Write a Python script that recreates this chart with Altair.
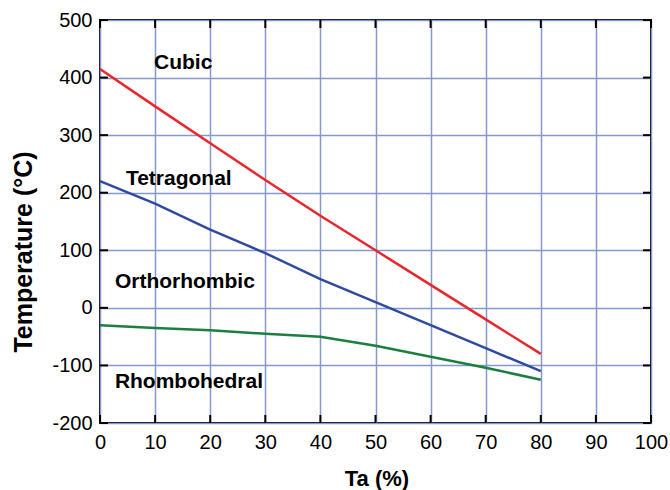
import altair as alt
import pandas as pd

# Data
ta_cubic = [0, 10, 20, 30, 40, 50, 60, 70, 80]
t_cubic = [415, 350, 286, 222, 160, 100, 40, -20, -80]
ta_tet = [0, 10, 20, 30, 40, 50, 60, 70, 80]
t_tet = [220, 181, 136, 95, 50, 10, -30, -70, -110]
ta_rh = [0, 10, 20, 30, 40, 50, 60, 70, 80]
t_rh = [-30, -35, -39, -45, -50, -66, -85, -104, -125]

phase_names = ["Cubic", "Tetragonal", "Orthorhombic", "Rhombohedral"]
phase_x = [9.8, 4.7, 2.7, 2.7]
phase_y = [415, 213, 35, -139]

x_ticks = [0, 10, 20, 30, 40, 50, 60, 70, 80, 90, 100]
y_ticks = [-200, -100, 0, 100, 200, 300, 400, 500]

rows = []
for s, xs, ys in [("Cubic-Tetragonal", ta_cubic, t_cubic),
                  ("Tetragonal-Orthorhombic", ta_tet, t_tet),
                  ("Orthorhombic-Rhombohedral", ta_rh, t_rh)]:
    for a, b in zip(xs, ys):
        rows.append({"series": s, "Ta": a, "T": b})
lines_df = pd.DataFrame(rows)
labels_df = pd.DataFrame({"name": phase_names, "Ta": phase_x, "T": phase_y})
xt_df = pd.DataFrame({"Ta": x_ticks})
yt_df = pd.DataFrame({"T": y_ticks})

W, H = 551, 403
xscale = alt.Scale(domain=[0, 100], nice=False, zero=False)
yscale = alt.Scale(domain=[-200, 500], nice=False, zero=False)
FONT = "Liberation Sans"
GRID = "#8497cf"

x_axis = alt.Axis(values=x_ticks, orient="bottom", ticks=False, domain=False, grid=True,
                  gridColor=GRID, gridWidth=1.5,
                  labelFont=FONT, labelFontSize=20, labelColor="black", labelPadding=9,
                  labelFlush=False, labelExpr="'' + datum.value",
                  title="Ta (%)", titleFont=FONT, titleFontSize=22, titleFontWeight="bold",
                  titleColor="black", titleX=W / 2 + 1, titleY=55, titleBaseline="middle",
                  titleAlign="center")
y_axis = alt.Axis(values=y_ticks, orient="left", ticks=False, domain=False, grid=True,
                  gridColor=GRID, gridWidth=1.5,
                  labelFont=FONT, labelFontSize=20, labelColor="black", labelPadding=8,
                  labelFlush=False, labelExpr="'' + datum.value",
                  title="Temperature (°C)", titleFont=FONT, titleFontSize=25,
                  titleFontWeight="bold", titleColor="black", titleX=-77, titleY=H / 2 + 30,
                  titleAngle=-90, titleBaseline="middle", titleAlign="center")

lines = alt.Chart(lines_df).mark_line(strokeWidth=2.5).encode(
    x=alt.X("Ta:Q", scale=xscale, axis=x_axis),
    y=alt.Y("T:Q", scale=yscale, axis=y_axis),
    color=alt.Color("series:N", legend=None,
                    scale=alt.Scale(domain=["Cubic-Tetragonal", "Tetragonal-Orthorhombic",
                                            "Orthorhombic-Rhombohedral"],
                                    range=["#e8262c", "#2f4b9f", "#1c7f40"])),
    detail="series:N",
)

# Inward frame ticks on all four sides
tick_style = dict(color="black", thickness=2, size=8, opacity=1)
ticks_bottom = alt.Chart(xt_df).mark_tick(orient="vertical", **tick_style).encode(
    x=alt.X("Ta:Q", scale=xscale), y=alt.value(H - 4))
ticks_top = alt.Chart(xt_df).mark_tick(orient="vertical", **tick_style).encode(
    x=alt.X("Ta:Q", scale=xscale), y=alt.value(4))
ticks_left = alt.Chart(yt_df).mark_tick(orient="horizontal", **tick_style).encode(
    y=alt.Y("T:Q", scale=yscale), x=alt.value(4))
ticks_right = alt.Chart(yt_df).mark_tick(orient="horizontal", **tick_style).encode(
    y=alt.Y("T:Q", scale=yscale), x=alt.value(W - 4))

text = alt.Chart(labels_df).mark_text(align="left", baseline="alphabetic", font=FONT,
                                       fontSize=21, fontWeight="bold", color="black").encode(
    x=alt.X("Ta:Q", scale=xscale),
    y=alt.Y("T:Q", scale=yscale),
    text="name:N",
)

chart = alt.layer(lines, ticks_bottom, ticks_top, ticks_left, ticks_right, text).properties(
    width=W, height=H,
    autosize=alt.AutoSizeParams(type="none"),
    padding={"left": 100, "top": 20, "right": 19, "bottom": 67},
    background="white",
).configure_view(stroke="black", strokeWidth=2)

chart.save("out.html", embed_options={"renderer": "svg", "actions": False})
